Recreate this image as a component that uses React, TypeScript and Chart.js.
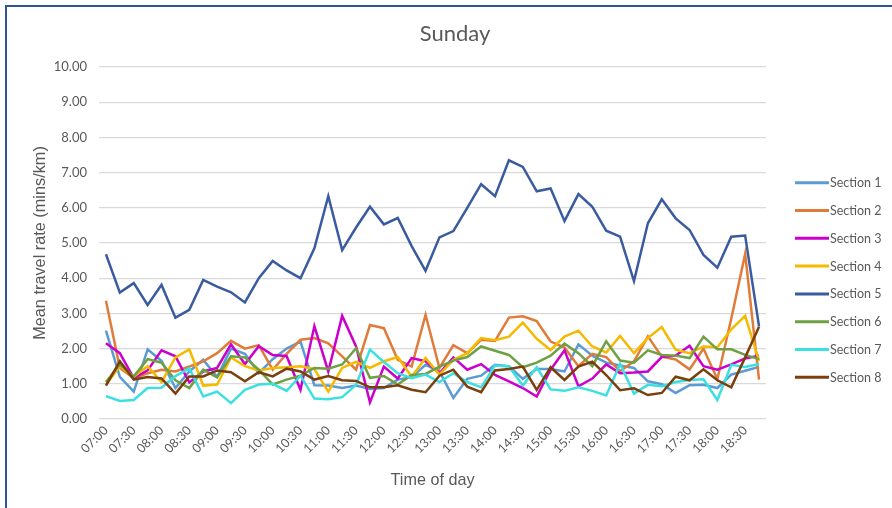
import React, { useEffect, useRef } from "react";
import { Chart, registerables } from "chart.js";

Chart.register(...registerables);

const timeLabels = [
  "07:00", "07:15", "07:30", "07:45", "08:00", "08:15", "08:30", "08:45",
  "09:00", "09:15", "09:30", "09:45", "10:00", "10:15", "10:30", "10:45",
  "11:00", "11:15", "11:30", "11:45", "12:00", "12:15", "12:30", "12:45",
  "13:00", "13:15", "13:30", "13:45", "14:00", "14:15", "14:30", "14:45",
  "15:00", "15:15", "15:30", "15:45", "16:00", "16:15", "16:30", "16:45",
  "17:00", "17:15", "17:30", "17:45", "18:00", "18:15", "18:30", "18:45",
];

const yTicks = [0, 1, 2, 3, 4, 5, 6, 7, 8, 9, 10];

const section1 = [2.51, 1.2, 0.78, 1.98, 1.65, 0.88, 1.35, 1.68, 1.2, 2.0, 1.85, 1.3, 1.7, 2.0, 2.2, 0.96, 0.95, 0.88, 0.95, 0.85, 0.88, 1.12, 1.19, 1.54, 1.35, 0.6, 1.14, 1.23, 1.54, 1.5, 1.14, 1.42, 1.42, 1.35, 2.12, 1.8, 1.6, 1.52, 1.45, 1.07, 0.99, 0.74, 0.96, 0.97, 0.88, 1.26, 1.37, 1.48];
const section2 = [3.36, 1.45, 1.16, 1.3, 1.4, 1.35, 1.49, 1.64, 1.87, 2.22, 2.0, 2.1, 1.4, 1.85, 2.25, 2.3, 2.15, 1.78, 1.4, 2.67, 2.58, 1.68, 1.49, 2.96, 1.45, 2.1, 1.87, 2.25, 2.22, 2.88, 2.92, 2.78, 2.2, 2.03, 1.5, 1.85, 1.76, 1.36, 1.64, 2.35, 1.77, 1.69, 1.41, 2.0, 1.13, 2.85, 4.69, 1.12];
const section3 = [2.15, 1.87, 1.16, 1.38, 1.95, 1.78, 1.04, 1.35, 1.45, 2.12, 1.56, 2.07, 1.82, 1.79, 0.83, 2.64, 1.35, 2.93, 2.06, 0.47, 1.49, 1.15, 1.73, 1.64, 1.3, 1.75, 1.4, 1.56, 1.25, 1.07, 0.88, 0.64, 1.4, 1.95, 0.93, 1.15, 1.55, 1.3, 1.32, 1.35, 1.76, 1.8, 2.08, 1.5, 1.4, 1.55, 1.72, 1.8];
const section4 = [0.97, 1.5, 1.2, 1.5, 1.05, 1.75, 1.98, 0.95, 0.98, 1.75, 1.5, 1.38, 1.45, 1.47, 1.5, 1.42, 0.78, 1.45, 1.62, 1.45, 1.64, 1.76, 1.2, 1.73, 1.26, 1.68, 1.87, 2.3, 2.24, 2.34, 2.74, 2.28, 1.96, 2.34, 2.51, 2.06, 1.89, 2.36, 1.87, 2.3, 2.61, 1.97, 1.87, 2.06, 2.04, 2.55, 2.93, 1.65];
const section5 = [4.68, 3.59, 3.86, 3.24, 3.81, 2.88, 3.1, 3.95, 3.76, 3.6, 3.31, 4.0, 4.49, 4.22, 4.0, 4.85, 6.33, 4.8, 5.44, 6.03, 5.53, 5.71, 4.91, 4.21, 5.16, 5.34, 6.0, 6.67, 6.33, 7.35, 7.16, 6.47, 6.55, 5.62, 6.39, 6.03, 5.35, 5.18, 3.92, 5.56, 6.24, 5.7, 5.37, 4.66, 4.3, 5.18, 5.21, 2.63];
const section6 = [1.05, 1.55, 1.21, 1.7, 1.6, 1.1, 0.88, 1.4, 1.18, 1.78, 1.75, 1.4, 0.98, 1.12, 1.23, 1.45, 1.43, 1.55, 2.01, 1.17, 1.22, 0.98, 1.25, 1.28, 1.49, 1.66, 1.76, 2.06, 1.94, 1.82, 1.47, 1.6, 1.8, 2.14, 1.87, 1.5, 2.21, 1.66, 1.6, 1.95, 1.82, 1.8, 1.73, 2.34, 1.98, 1.98, 1.82, 1.7];
const section7 = [0.65, 0.51, 0.54, 0.88, 0.89, 1.22, 1.44, 0.64, 0.78, 0.45, 0.83, 0.98, 1.0, 0.8, 1.23, 0.58, 0.56, 0.62, 0.97, 1.97, 1.62, 1.3, 1.16, 1.26, 1.05, 1.3, 1.05, 0.9, 1.52, 1.49, 0.95, 1.47, 0.84, 0.8, 0.9, 0.8, 0.67, 1.56, 0.72, 0.97, 0.93, 1.05, 1.11, 1.13, 0.54, 1.54, 1.48, 1.56];
const section8 = [0.95, 1.64, 1.12, 1.19, 1.15, 0.72, 1.21, 1.21, 1.38, 1.33, 1.07, 1.33, 1.21, 1.43, 1.35, 1.12, 1.22, 1.1, 1.08, 0.9, 0.9, 0.96, 0.83, 0.76, 1.23, 1.4, 0.92, 0.76, 1.38, 1.42, 1.49, 0.83, 1.47, 1.11, 1.49, 1.63, 1.25, 0.82, 0.87, 0.68, 0.74, 1.2, 1.1, 1.41, 1.1, 0.9, 1.75, 2.62];

const seriesNames = ["Section 1", "Section 2", "Section 3", "Section 4", "Section 5", "Section 6", "Section 7", "Section 8"];
const seriesValues = [section1, section2, section3, section4, section5, section6, section7, section8];
const seriesColors = ["#5B9BD5", "#E07B39", "#CC00CC", "#F5BA00", "#3A5BA0", "#6FA043", "#3CE0E0", "#7B3F0C"];

const TEXT = "#595959";

const sideLegend = {
  id: "sideLegend",
  afterDraw(chart: any) {
    const { ctx, chartArea } = chart;
    ctx.save();
    const x0 = chartArea.right + 29;
    const top = 182.7;
    const step = 27.8;
    chart.data.datasets.forEach((ds: any, i: number) => {
      const y = top + i * step;
      ctx.strokeStyle = ds.borderColor;
      ctx.lineWidth = 3;
      ctx.beginPath();
      ctx.moveTo(x0, y);
      ctx.lineTo(x0 + 34, y);
      ctx.stroke();
      ctx.fillStyle = TEXT;
      ctx.font = "12.5px Lato";
      ctx.textBaseline = "middle";
      ctx.textAlign = "left";
      ctx.fillText(ds.label, x0 + 35, y + 0.5);
    });
    ctx.restore();
  },
};

export default function App() {
  const ref = useRef<HTMLCanvasElement | null>(null);

  useEffect(() => {
    if (!ref.current) return;
    const chart = new Chart(ref.current, {
      type: "line",
      data: {
        labels: timeLabels,
        datasets: seriesNames.map((name, i) => ({
          label: name,
          data: seriesValues[i],
          borderColor: seriesColors[i],
          backgroundColor: seriesColors[i],
          borderWidth: 2.5,
          pointRadius: 0,
          tension: 0,
          fill: false,
          order: seriesNames.length - 1 - i,
          yAxisID: "y",
        })),
      },
      options: {
        responsive: false,
        animation: false,
        layout: { padding: { left: 18, right: 0, top: 0, bottom: 0 } },
        plugins: {
          legend: { display: false },
          tooltip: { enabled: false },
          title: {
            display: true,
            text: "Sunday",
            color: TEXT,
            font: { family: "Lato", size: 22, weight: "normal" },
            padding: { top: 21, bottom: 19.6 },
          },
        },
        scales: {
          x: {
            type: "category",
            offset: true,
            grid: { display: false, drawTicks: false },
            border: { display: false },
            ticks: {
              autoSkip: false,
              maxRotation: 45,
              minRotation: 45,
              padding: 4,
              color: TEXT,
              font: { family: "Lato", size: 12.5 },
              callback: (_v: any, idx: number) => (idx % 2 === 0 ? timeLabels[idx] : ""),
            },
            title: {
              display: true,
              text: "Time of day",
              color: TEXT,
              font: { family: "Liberation Sans", size: 16.2 },
              padding: { top: 0, bottom: 17.8 },
            },
            afterFit: (scale: any) => {
              scale.height = 89;
            },
          },
          y: {
            min: 0,
            max: 10,
            afterBuildTicks: (scale: any) => {
              scale.ticks = yTicks.map((v) => ({ value: v }));
            },
            grid: { color: "#D9D9D9", lineWidth: 1.2, drawTicks: false },
            border: { display: false },
            ticks: {
              padding: 12,
              color: TEXT,
              font: { family: "Lato", size: 13 },
              callback: (v: any) => Number(v).toFixed(2),
            },
            title: {
              display: true,
              text: "Mean travel rate (mins/km)",
              color: TEXT,
              font: { family: "Liberation Sans", size: 16.3 },
              padding: { top: 12.4, bottom: 0 },
            },
            afterFit: (scale: any) => {
              scale.width = 81;
            },
          },
          legendSpace: {
            type: "linear",
            position: "right",
            display: true,
            grid: { display: false, drawTicks: false },
            border: { display: false },
            ticks: { display: false },
            afterFit: (scale: any) => {
              scale.width = 126;
            },
          },
        },
      },
      plugins: [sideLegend],
    });
    return () => chart.destroy();
  }, []);

  return (
    <div style={{ position: "fixed", left: 0, top: 0, width: 892, height: 508, background: "#fff", overflow: "hidden" }}>
      <canvas ref={ref} width={892} height={508} style={{ display: "block", width: 892, height: 508 }} />
      <div
        style={{
          position: "absolute",
          left: 5,
          top: 5,
          width: 900,
          height: 520,
          borderTop: "2px solid #2F5597",
          borderLeft: "2px solid #2F5597",
          pointerEvents: "none",
        }}
      />
    </div>
  );
}
